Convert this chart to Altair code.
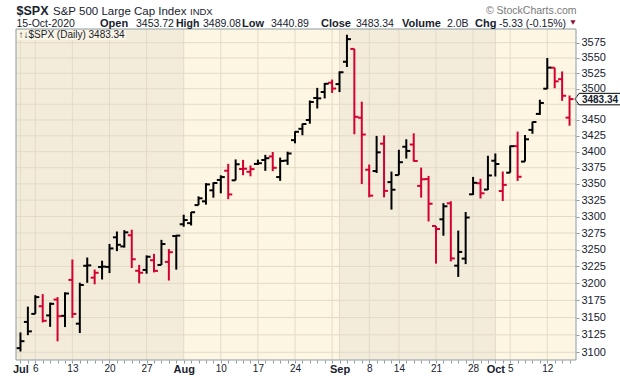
import json
import altair as alt
import pandas as pd

# ---------------- data ----------------
dates = [
    "2020-07-01", "2020-07-02", "2020-07-06", "2020-07-07", "2020-07-08", "2020-07-09", "2020-07-10",
    "2020-07-13", "2020-07-14", "2020-07-15", "2020-07-16", "2020-07-17",
    "2020-07-20", "2020-07-21", "2020-07-22", "2020-07-23", "2020-07-24",
    "2020-07-27", "2020-07-28", "2020-07-29", "2020-07-30", "2020-07-31",
    "2020-08-03", "2020-08-04", "2020-08-05", "2020-08-06", "2020-08-07",
    "2020-08-10", "2020-08-11", "2020-08-12", "2020-08-13", "2020-08-14",
    "2020-08-17", "2020-08-18", "2020-08-19", "2020-08-20", "2020-08-21",
    "2020-08-24", "2020-08-25", "2020-08-26", "2020-08-27", "2020-08-28",
    "2020-08-31", "2020-09-01", "2020-09-02", "2020-09-03", "2020-09-04",
    "2020-09-08", "2020-09-09", "2020-09-10", "2020-09-11",
    "2020-09-14", "2020-09-15", "2020-09-16", "2020-09-17", "2020-09-18",
    "2020-09-21", "2020-09-22", "2020-09-23", "2020-09-24", "2020-09-25",
    "2020-09-28", "2020-09-29", "2020-09-30", "2020-10-01", "2020-10-02",
    "2020-10-05", "2020-10-06", "2020-10-07", "2020-10-08", "2020-10-09",
    "2020-10-12", "2020-10-13", "2020-10-14", "2020-10-15",
]
opens = [
    3105.92, 3143.64, 3155.29, 3166.44, 3153.07, 3176.17, 3152.47,
    3205.08, 3141.11, 3225.98, 3208.36, 3224.21,
    3224.29, 3268.52, 3254.86, 3271.64, 3218.58,
    3219.84, 3234.27, 3227.22, 3231.76, 3270.45,
    3288.26, 3289.92, 3317.37, 3323.17, 3340.05,
    3356.04, 3370.34, 3355.46, 3372.95, 3368.66,
    3380.86, 3387.04, 3392.51, 3360.48, 3386.01,
    3418.09, 3435.95, 3449.97, 3485.14, 3494.69,
    3509.73, 3507.44, 3543.76, 3564.74, 3453.60,
    3371.88, 3369.82, 3412.56, 3352.70,
    3363.56, 3407.73, 3411.23, 3346.86, 3357.38,
    3285.57, 3295.75, 3320.11, 3226.14, 3236.66,
    3333.90, 3350.92, 3341.21, 3385.87, 3338.94,
    3367.27, 3408.74, 3384.56, 3434.28, 3459.67,
    3500.02, 3534.01, 3515.47, 3453.72,
]
highs = [
    3128.44, 3165.81, 3182.59, 3184.15, 3171.80, 3179.78, 3186.82,
    3235.32, 3200.95, 3238.28, 3220.39, 3233.52,
    3258.61, 3277.29, 3279.32, 3279.99, 3227.26,
    3241.43, 3243.72, 3264.74, 3250.92, 3272.17,
    3302.73, 3306.84, 3330.77, 3351.03, 3352.54,
    3363.29, 3381.01, 3387.89, 3387.24, 3378.51,
    3387.59, 3395.06, 3399.54, 3390.80, 3399.96,
    3432.09, 3444.21, 3481.07, 3501.38, 3509.23,
    3514.77, 3528.03, 3588.11, 3564.85, 3479.15,
    3379.97, 3424.77, 3425.55, 3368.95,
    3402.93, 3419.48, 3428.92, 3375.17, 3362.27,
    3285.57, 3320.31, 3323.35, 3278.70, 3306.88,
    3360.74, 3357.92, 3393.56, 3397.18, 3369.10,
    3409.57, 3431.56, 3426.26, 3447.28, 3482.34,
    3549.85, 3534.01, 3527.94, 3489.08,
]
lows = [
    3101.17, 3124.52, 3155.29, 3142.93, 3136.53, 3115.70, 3136.22,
    3149.43, 3127.66, 3200.76, 3198.59, 3205.65,
    3215.16, 3247.77, 3253.10, 3222.66, 3200.05,
    3214.25, 3216.17, 3227.22, 3204.13, 3220.26,
    3284.53, 3286.37, 3317.37, 3318.14, 3328.72,
    3335.44, 3326.44, 3355.46, 3363.35, 3361.64,
    3379.22, 3370.15, 3369.66, 3354.69, 3379.31,
    3413.13, 3425.84, 3444.15, 3468.35, 3484.32,
    3493.25, 3494.60, 3535.23, 3427.41, 3349.63,
    3329.27, 3366.84, 3329.25, 3310.47,
    3363.56, 3389.25, 3384.45, 3328.82, 3292.40,
    3229.10, 3270.95, 3232.57, 3209.45, 3228.44,
    3332.91, 3327.54, 3340.47, 3361.39, 3323.69,
    3367.27, 3354.54, 3384.56, 3428.15, 3458.07,
    3499.61, 3500.86, 3480.55, 3440.89,
]
closes = [
    3115.86, 3130.01, 3179.72, 3145.32, 3169.94, 3152.05, 3185.04,
    3155.22, 3197.52, 3226.56, 3215.57, 3224.73,
    3251.84, 3257.30, 3276.02, 3235.66, 3215.63,
    3239.41, 3218.44, 3258.44, 3246.22, 3271.12,
    3294.61, 3306.51, 3327.77, 3349.16, 3351.28,
    3360.47, 3333.69, 3380.35, 3373.43, 3372.85,
    3381.99, 3389.78, 3374.85, 3385.51, 3397.16,
    3431.28, 3443.62, 3478.73, 3484.55, 3508.01,
    3500.31, 3526.65, 3580.84, 3455.06, 3426.96,
    3331.84, 3398.96, 3339.19, 3340.97,
    3383.54, 3401.20, 3385.49, 3357.01, 3319.47,
    3281.06, 3315.57, 3236.92, 3246.59, 3298.46,
    3351.60, 3335.47, 3363.00, 3380.80, 3348.42,
    3408.60, 3360.97, 3419.44, 3446.83, 3477.14,
    3534.22, 3511.93, 3488.67, 3483.34,
]
prev_close = 3100.29  # close of 30-Jun-2020
volume_text = "2.0B"

y_ticks = list(range(3100, 3600, 25))
label_dates = ["2020-07-01", "2020-07-06", "2020-07-13", "2020-07-20", "2020-07-27",
               "2020-08-03", "2020-08-10", "2020-08-17", "2020-08-24",
               "2020-09-01", "2020-09-08", "2020-09-14", "2020-09-21", "2020-09-28",
               "2020-10-01", "2020-10-05", "2020-10-12"]
label_texts = ["Jul", "6", "13", "20", "27", "Aug", "10", "17", "24",
               "Sep", "8", "14", "21", "28", "Oct", "5", "12"]

# ---------------- derived tables ----------------
n = len(dates)
dts = pd.to_datetime(dates)
prev = [prev_close] + closes[:-1]
df = pd.DataFrame({
    "i": list(range(n)), "date": dates, "o": opens, "h": highs, "l": lows, "c": closes,
    "dir": ["up" if c >= p else "down" for c, p in zip(closes, prev)],
})

month_start = [i for i in range(n) if i == 0 or dts[i].month != dts[i - 1].month]
week_start = [i for i in range(n) if i == 0 or dts[i].isocalendar()[1] != dts[i - 1].isocalendar()[1]]
grid_x = sorted(set(month_start) | set(week_start))

X_MIN, X_MAX = -0.6, n - 1 + 0.87
Y_MIN, Y_MAX = 3089.0, 3597.6
W, H = 560, 331
PAD_L, PAD_T = 16, 29

bands = []
for k, s in enumerate(month_start):
    if k % 2 == 0:
        start = X_MIN if k == 0 else s
        end = month_start[k + 1] if k + 1 < len(month_start) else X_MAX
        bands.append({"x0": start, "x1": end})
bands_df = pd.DataFrame(bands)

labels_all = [""] * n
for d, t in zip(label_dates, label_texts):
    labels_all[dates.index(d)] = t
bold_idx = [dates.index(d) for d, t in zip(label_dates, label_texts) if not t.isdigit()]

# tick label hidden behind the last-price box
hidden_tick = min(y_ticks, key=lambda v: abs(v - closes[-1]))

# ---------------- styles ----------------
INK = "#17222e"
RED = "#d30031"
DARK_BAND = "#f3ecdb"
LIGHT_BAND = "#fdf6e3"
GRID = "#e3dac7"
FRAME = "#8d9ba3"
FONT = "Liberation Sans"

x_scale = alt.Scale(domain=[X_MIN, X_MAX], nice=False, zero=False)
y_scale = alt.Scale(type="log", domain=[Y_MIN, Y_MAX], nice=False)

bold_test = "indexof(" + json.dumps(bold_idx) + ", datum.value) >= 0"
x_axis = alt.Axis(
    values=list(range(n)),
    labelExpr=json.dumps(labels_all) + "[datum.value]",
    tickSize=3, tickColor=FRAME, domain=False, grid=False,
    labelFlush=False, labelOverlap=False, labelBound=False, labelPadding=0,
    labelFont=FONT, labelColor=INK,
    labelFontSize={"condition": {"test": bold_test, "value": 11}, "value": 10},
    labelFontWeight={"condition": {"test": bold_test, "value": "bold"}, "value": "normal"},
    title=None,
)
y_axis = alt.Axis(
    orient="right", values=y_ticks, tickSize=3, tickColor=FRAME,
    labelExpr=f"datum.value == {hidden_tick} ? '' : format(datum.value, 'd')",
    domain=False, grid=False, labelPadding=2, labelFont=FONT, labelFontSize=11,
    labelColor=INK, labelFlush=False, title=None,
)

X = lambda f: alt.X(f, type="quantitative", scale=x_scale, axis=x_axis)
Y = lambda f: alt.Y(f, type="quantitative", scale=y_scale, axis=y_axis)

one = pd.DataFrame({"k": [0]})

layers = []

# month bands
layers.append(alt.Chart(bands_df).mark_rect(color=DARK_BAND).encode(
    x=X("x0"), x2="x1", y=alt.value(0), y2=alt.value(H)))

# gridlines
layers.append(alt.Chart(pd.DataFrame({"v": y_ticks})).mark_rule(color=GRID, strokeWidth=1).encode(y=Y("v")))
layers.append(alt.Chart(pd.DataFrame({"g": grid_x})).mark_rule(color=GRID, strokeWidth=1).encode(x=X("g")))

# legend in plot
layers.append(alt.Chart(one).mark_rect(color="#faf4e4").encode(
    x=alt.value(0.5), x2=alt.value(110), y=alt.value(0.5), y2=alt.value(11)))
layers.append(alt.Chart(one).mark_text(
    text=f"\u2191\u2193$SPX (Daily) {closes[-1]:.2f}", font=FONT, fontSize=10, color=INK,
    align="left", baseline="alphabetic").encode(x=alt.value(2.5), y=alt.value(8.8)))

# OHLC bars
color = alt.Color("dir:N", scale=alt.Scale(domain=["up", "down"], range=["#000000", RED]), legend=None)
base = alt.Chart(df)
layers.append(base.mark_rule(strokeWidth=2).encode(x=X("i"), y=Y("l"), y2="h", color=color))
layers.append(base.mark_rule(strokeWidth=2, xOffset=-4).encode(x=X("i"), x2="i", y=Y("o"), color=color))
layers.append(base.mark_rule(strokeWidth=2, x2Offset=4).encode(x=X("i"), x2="i", y=Y("c"), color=color))

# last price label on the right axis
last = pd.DataFrame({"c": [closes[-1]], "t": [f"{closes[-1]:.2f}"]})
shape = "M -1 0 L -0.82 -0.25 L 1 -0.25 L 1 0.25 L -0.82 0.25 Z"
layers.append(alt.Chart(last).mark_point(shape=shape, size=2116, filled=True, fill="white",
                                         stroke="#000000", strokeWidth=1, opacity=1).encode(
    x=alt.value(W + 22), y=Y("c")))
layers.append(alt.Chart(last).mark_text(font=FONT, fontSize=10, fontWeight="bold", color=INK,
                                        align="center", baseline="middle", dy=0.5).encode(
    x=alt.value(W + 24), y=Y("c"), text="t:N"))

# frame
layers.append(alt.Chart(one).mark_rect(fill="transparent", stroke=FRAME, strokeWidth=1).encode(
    x=alt.value(0), x2=alt.value(W), y=alt.value(0), y2=alt.value(H)))

# header
chg = closes[-1] - closes[-2]
pct = chg / closes[-2] * 100
header = [
    ("$SPX", 16.5, 15, 12.5, "bold", INK, "left"),
    ("S&P 500 Large Cap Index", 53, 15, 11.5, "normal", INK, "left"),
    ("INDX", 190, 15, 9.5, "normal", INK, "left"),
    ("15-Oct-2020", 16.5, 26.5, 10.5, "normal", INK, "left"),
    ("Open", 100, 26.5, 11, "bold", INK, "left"),
    (f"{opens[-1]:.2f}", 136, 26.5, 10.5, "normal", INK, "left"),
    ("High", 176, 26.5, 10.5, "bold", INK, "left"),
    (f"{highs[-1]:.2f}", 203, 26.5, 10.5, "normal", INK, "left"),
    ("Low", 242, 26.5, 11, "bold", INK, "left"),
    (f"{lows[-1]:.2f}", 271, 26.5, 10.5, "normal", INK, "left"),
    ("Close", 321, 26.5, 11, "bold", INK, "left"),
    (f"{closes[-1]:.2f}", 356, 26.5, 10.5, "normal", INK, "left"),
    ("Volume", 402, 26.5, 11, "bold", INK, "left"),
    (volume_text, 447, 26.5, 10.5, "normal", INK, "left"),
    ("Chg", 475, 26.5, 11, "bold", INK, "left"),
    (f"{chg:.2f} ({pct:.2f}%)", 499, 26.5, 10.5, "normal", INK, "left"),
    ("\u00a9 StockCharts.com", 576.5, 14, 10.5, "normal", "#7a7a7a", "right"),
]
for t, x, y, fs, fw, col, al in header:
    layers.append(alt.Chart(one).mark_text(text=t, font=FONT, fontSize=fs, fontWeight=fw, color=col,
                                           align=al, baseline="alphabetic").encode(
        x=alt.value(x - PAD_L), y=alt.value(y - PAD_T)))
layers.append(alt.Chart(one).mark_point(shape="triangle-down", size=28, filled=True,
                                        color="#8b1236", opacity=1).encode(
    x=alt.value(573 - PAD_L), y=alt.value(22.5 - PAD_T)))

chart = alt.layer(*layers).properties(
    width=W, height=H,
    padding={"left": PAD_L, "top": PAD_T, "right": 620 - PAD_L - W, "bottom": 376 - PAD_T - H},
    autosize=alt.AutoSizeParams(type="none"),
    background="white",
).configure_view(fill=LIGHT_BAND, stroke=None)

chart.save("out.html", embed_options={"renderer": "svg", "actions": False})
